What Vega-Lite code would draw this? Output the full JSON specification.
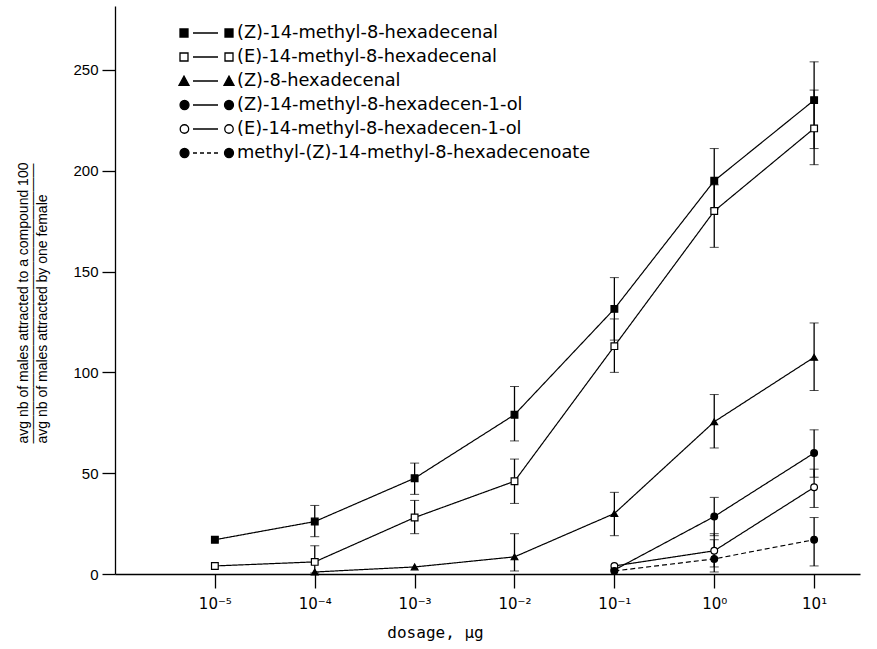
{
  "$schema": "https://vega.github.io/schema/vega-lite/v6.json",
  "autosize": {"type": "none"},
  "width": 745,
  "height": 568,
  "padding": {"left": 115, "top": 6, "right": 17, "bottom": 75},
  "background": "white",
  "config": {
    "view": {"stroke": null},
    "axis": {"grid": false, "domainColor": "black", "tickColor": "black", "labelColor": "black", "titleColor": "black", "domainWidth": 1.3, "tickWidth": 1.3}
  },
  "data": {"values": [
    {"compound": "(Z)-14-methyl-8-hexadecenal", "dose": 0.00001, "value": 17},
    {"compound": "(Z)-14-methyl-8-hexadecenal", "dose": 0.0001, "value": 26, "lo": 18.5, "hi": 34},
    {"compound": "(Z)-14-methyl-8-hexadecenal", "dose": 0.001, "value": 47.5, "lo": 39.5, "hi": 55},
    {"compound": "(Z)-14-methyl-8-hexadecenal", "dose": 0.01, "value": 79, "lo": 66, "hi": 93},
    {"compound": "(Z)-14-methyl-8-hexadecenal", "dose": 0.1, "value": 131.5, "lo": 116, "hi": 147},
    {"compound": "(Z)-14-methyl-8-hexadecenal", "dose": 1, "value": 195, "lo": 181, "hi": 211},
    {"compound": "(Z)-14-methyl-8-hexadecenal", "dose": 10, "value": 235, "lo": 211, "hi": 254},
    {"compound": "(E)-14-methyl-8-hexadecenal", "dose": 0.00001, "value": 4},
    {"compound": "(E)-14-methyl-8-hexadecenal", "dose": 0.0001, "value": 6, "lo": 0.5, "hi": 14},
    {"compound": "(E)-14-methyl-8-hexadecenal", "dose": 0.001, "value": 28, "lo": 20, "hi": 36.5},
    {"compound": "(E)-14-methyl-8-hexadecenal", "dose": 0.01, "value": 46, "lo": 35, "hi": 57},
    {"compound": "(E)-14-methyl-8-hexadecenal", "dose": 0.1, "value": 113, "lo": 100, "hi": 126.5},
    {"compound": "(E)-14-methyl-8-hexadecenal", "dose": 1, "value": 180, "lo": 162, "hi": 193},
    {"compound": "(E)-14-methyl-8-hexadecenal", "dose": 10, "value": 221, "lo": 203, "hi": 240},
    {"compound": "(Z)-8-hexadecenal", "dose": 0.0001, "value": 1},
    {"compound": "(Z)-8-hexadecenal", "dose": 0.001, "value": 3.5},
    {"compound": "(Z)-8-hexadecenal", "dose": 0.01, "value": 8.5, "lo": 1.5, "hi": 20},
    {"compound": "(Z)-8-hexadecenal", "dose": 0.1, "value": 30, "lo": 19, "hi": 40.5},
    {"compound": "(Z)-8-hexadecenal", "dose": 1, "value": 75.5, "lo": 62.5, "hi": 89},
    {"compound": "(Z)-8-hexadecenal", "dose": 10, "value": 107.5, "lo": 91, "hi": 124.5},
    {"compound": "(Z)-14-methyl-8-hexadecen-1-ol", "dose": 0.1, "value": 2},
    {"compound": "(Z)-14-methyl-8-hexadecen-1-ol", "dose": 1, "value": 28.5, "lo": 19, "hi": 38},
    {"compound": "(Z)-14-methyl-8-hexadecen-1-ol", "dose": 10, "value": 60, "lo": 48, "hi": 71.5},
    {"compound": "(E)-14-methyl-8-hexadecen-1-ol", "dose": 0.1, "value": 4},
    {"compound": "(E)-14-methyl-8-hexadecen-1-ol", "dose": 1, "value": 11.5, "lo": 3.5, "hi": 20},
    {"compound": "(E)-14-methyl-8-hexadecen-1-ol", "dose": 10, "value": 43, "lo": 33, "hi": 52},
    {"compound": "methyl-(Z)-14-methyl-8-hexadecenoate", "dose": 0.1, "value": 1.5},
    {"compound": "methyl-(Z)-14-methyl-8-hexadecenoate", "dose": 1, "value": 7.5, "lo": 1, "hi": 17},
    {"compound": "methyl-(Z)-14-methyl-8-hexadecenoate", "dose": 10, "value": 17, "lo": 4, "hi": 28}
  ]},
  "encoding": {
    "x": {"field": "dose", "type": "quantitative",
      "scale": {"type": "log", "domain": [0.000001, 28.8], "nice": false},
      "axis": {"values": [0.00001, 0.0001, 0.001, 0.01, 0.1, 1, 10],
        "labelExpr": "['10⁻⁵','10⁻⁴','10⁻³','10⁻²','10⁻¹','10⁰','10¹'][round(log(datum.value)/LN10)+5]",
        "labelFont": "DejaVu Sans", "labelFontSize": 15, "tickSize": 14, "labelPadding": 8,
        "title": "dosage, μg", "titleFont": "DejaVu Sans Mono", "titleFontSize": 16, "titleFontWeight": "normal",
        "titleX": 320, "titleY": 50, "titleBaseline": "top", "titleAlign": "center", "titleAnchor": null}
    },
    "y": {"field": "value", "type": "quantitative",
      "scale": {"domain": [0, 281.7], "nice": false, "zero": true},
      "axis": {"values": [0, 50, 100, 150, 200, 250], "tickSize": 13, "labelPadding": 4,
        "labelFont": "Liberation Sans", "labelFontSize": 15,
        "title": ["avg nb of males attracted to a compound      100", "————————————————————", "avg nb of males attracted by one female"],
        "titleFont": "Liberation Sans", "titleFontSize": 14, "titleFontWeight": "normal", "titleLineHeight": 9.5,
        "titleAngle": 270, "titleAlign": "left", "titleBaseline": "top", "titleX": -99, "titleY": 437, "titleAnchor": null}
    }
  },
  "layer": [
    {
      "mark": {"type": "line", "color": "black", "strokeWidth": 1.2},
      "encoding": {
        "detail": {"field": "compound"},
        "strokeDash": {"field": "compound", "type": "nominal",
          "scale": {"domain": ["(Z)-14-methyl-8-hexadecenal", "(E)-14-methyl-8-hexadecenal", "(Z)-8-hexadecenal", "(Z)-14-methyl-8-hexadecen-1-ol", "(E)-14-methyl-8-hexadecen-1-ol", "methyl-(Z)-14-methyl-8-hexadecenoate"],
            "range": [[1, 0], [1, 0], [1, 0], [1, 0], [1, 0], [5, 3]]},
          "legend": null}
      }
    },
    {
      "transform": [{"filter": "isValid(datum.lo)"}],
      "mark": {"type": "errorbar", "ticks": {"size": 9, "color": "black", "strokeWidth": 1.3}, "rule": {"color": "black", "strokeWidth": 1.3}},
      "encoding": {
        "y": {"field": "lo", "type": "quantitative"},
        "y2": {"field": "hi"},
        "detail": {"field": "compound"}
      }
    },
    {
      "mark": {"type": "point", "stroke": "black", "strokeWidth": 1.2, "size": 45, "opacity": 1},
      "encoding": {
        "shape": {"field": "compound", "type": "nominal",
          "scale": {"domain": ["(Z)-14-methyl-8-hexadecenal", "(E)-14-methyl-8-hexadecenal", "(Z)-8-hexadecenal", "(Z)-14-methyl-8-hexadecen-1-ol", "(E)-14-methyl-8-hexadecen-1-ol", "methyl-(Z)-14-methyl-8-hexadecenoate"],
            "range": ["square", "square", "triangle-up", "circle", "circle", "circle"]},
          "legend": null},
        "fill": {"field": "compound", "type": "nominal",
          "scale": {"domain": ["(Z)-14-methyl-8-hexadecenal", "(E)-14-methyl-8-hexadecenal", "(Z)-8-hexadecenal", "(Z)-14-methyl-8-hexadecen-1-ol", "(E)-14-methyl-8-hexadecen-1-ol", "methyl-(Z)-14-methyl-8-hexadecenoate"],
            "range": ["black", "white", "black", "black", "white", "black"]},
          "legend": null}
      }
    },
    {
      "mark": {"type": "point", "strokeWidth": 1.3, "opacity": 0},
      "encoding": {
        "shape": {"field": "compound", "type": "nominal",
          "scale": {"domain": ["(Z)-14-methyl-8-hexadecenal", "(E)-14-methyl-8-hexadecenal", "(Z)-8-hexadecenal", "(Z)-14-methyl-8-hexadecen-1-ol", "(E)-14-methyl-8-hexadecen-1-ol", "methyl-(Z)-14-methyl-8-hexadecenoate"],
            "range": [
              "M-1.125,-0.5H-0.125V0.5H-1.125Z M0.5,0H3.625 M4.5,-0.5H5.5V0.5H4.5Z",
              "M-1.125,-0.5H-0.125V0.5H-1.125Z M0.5,0H3.625 M4.5,-0.5H5.5V0.5H4.5Z",
              "M-1.25,0.55L-0.625,-0.6L0,0.55Z M0.5,0H3.625 M4.375,0.55L5,-0.6L5.625,0.55Z",
              "M-1.12,0A0.56,0.56 0 1,0 0,0A0.56,0.56 0 1,0 -1.12,0Z M0.5,0H3.625 M4.44,0A0.56,0.56 0 1,0 5.56,0A0.56,0.56 0 1,0 4.44,0Z",
              "M-1.1,0A0.53,0.53 0 1,0 -0.04,0A0.53,0.53 0 1,0 -1.1,0Z M0.5,0H3.625 M4.47,0A0.53,0.53 0 1,0 5.53,0A0.53,0.53 0 1,0 4.47,0Z",
              "M-1.12,0A0.56,0.56 0 1,0 0,0A0.56,0.56 0 1,0 -1.12,0Z M0.5,0H1 M1.375,0H1.875 M2.25,0H2.75 M3.125,0H3.625 M4.44,0A0.56,0.56 0 1,0 5.56,0A0.56,0.56 0 1,0 4.44,0Z"
            ]},
          "legend": {"title": null, "orient": "none", "legendX": 65, "legendY": 18,
            "labelFont": "DejaVu Sans", "labelFontSize": 17.8, "labelColor": "black", "labelOffset": 39, "labelLimit": 600,
            "symbolSize": 256, "symbolStrokeColor": "black", "symbolStrokeWidth": 1.3, "symbolOpacity": 1, "rowPadding": 6}
        },
        "fill": {"field": "compound", "type": "nominal",
          "scale": {"domain": ["(Z)-14-methyl-8-hexadecenal", "(E)-14-methyl-8-hexadecenal", "(Z)-8-hexadecenal", "(Z)-14-methyl-8-hexadecen-1-ol", "(E)-14-methyl-8-hexadecen-1-ol", "methyl-(Z)-14-methyl-8-hexadecenoate"],
            "range": ["black", "white", "black", "black", "white", "black"]},
          "legend": {"title": null, "orient": "none", "legendX": 65, "legendY": 18,
            "labelFont": "DejaVu Sans", "labelFontSize": 17.8, "labelColor": "black", "labelOffset": 39, "labelLimit": 600,
            "symbolSize": 256, "symbolStrokeColor": "black", "symbolStrokeWidth": 1.3, "symbolOpacity": 1, "rowPadding": 6}
        },
        "stroke": {"field": "compound", "type": "nominal",
          "scale": {"domain": ["(Z)-14-methyl-8-hexadecenal", "(E)-14-methyl-8-hexadecenal", "(Z)-8-hexadecenal", "(Z)-14-methyl-8-hexadecen-1-ol", "(E)-14-methyl-8-hexadecen-1-ol", "methyl-(Z)-14-methyl-8-hexadecenoate"],
            "range": ["black", "black", "black", "black", "black", "black"]},
          "legend": {"title": null, "orient": "none", "legendX": 65, "legendY": 18,
            "labelFont": "DejaVu Sans", "labelFontSize": 17.8, "labelColor": "black", "labelOffset": 39, "labelLimit": 600,
            "symbolSize": 256, "symbolStrokeColor": "black", "symbolStrokeWidth": 1.3, "symbolOpacity": 1, "rowPadding": 6}
        }
      }
    }
  ],
  "resolve": {"scale": {"shape": "independent", "fill": "independent", "strokeDash": "independent", "stroke": "independent"}}
}
